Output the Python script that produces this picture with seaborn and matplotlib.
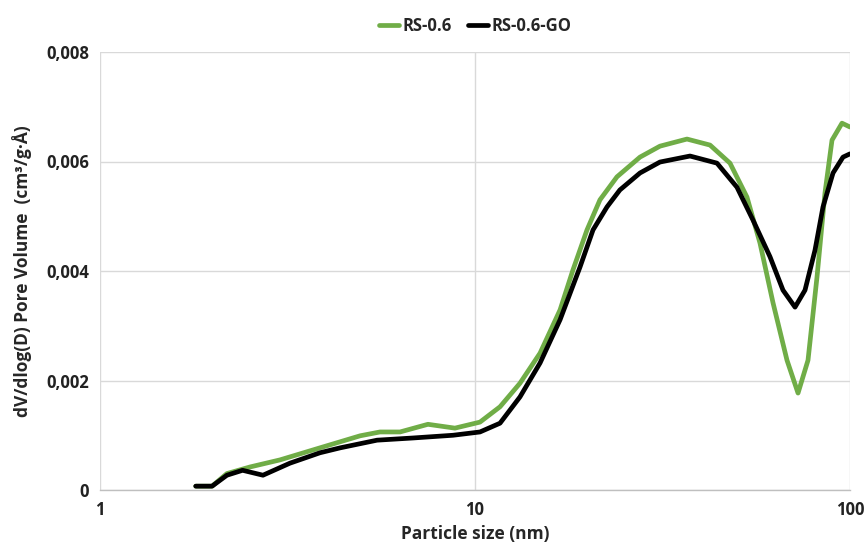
import numpy as np
import pandas as pd
import matplotlib
matplotlib.use("Agg")
import matplotlib.pyplot as plt
import seaborn as sns
from matplotlib.ticker import FixedLocator, FuncFormatter

# Data
size_rs = [1.80, 1.99, 2.18, 2.51, 3.02, 3.86, 4.94, 5.58, 6.31, 7.49, 8.84, 10.31,
           11.66, 13.18, 14.91, 16.86, 18.25, 19.89, 21.54, 23.91, 27.54, 31.13,
           36.75, 42.34, 47.86, 53.12, 57.54, 62.33, 67.92, 72.68, 77.27, 81.66,
           85.77, 89.54, 95.2, 100.0]
vol_rs = [0.00007, 0.00007, 0.00030, 0.00042, 0.00055, 0.00077, 0.00099, 0.00106,
          0.00106, 0.00120, 0.00113, 0.00124, 0.00152, 0.00195, 0.00250, 0.00329,
          0.00402, 0.00475, 0.00530, 0.00572, 0.00608, 0.00628, 0.00641, 0.00630,
          0.00597, 0.00535, 0.00451, 0.00342, 0.00237, 0.00177, 0.00237, 0.00389,
          0.00543, 0.00639, 0.00670, 0.00663]

size_go = [1.80, 1.99, 2.18, 2.40, 2.72, 3.21, 3.86, 4.37, 5.48, 6.83, 8.74, 10.31,
           11.66, 13.18, 14.91, 16.86, 19.05, 20.64, 22.49, 24.34, 27.54, 31.13,
           37.44, 44.19, 49.96, 55.12, 61.19, 66.27, 71.35, 75.86, 80.66, 84.72,
           90.10, 95.8, 100.0]
vol_go = [0.00007, 0.00007, 0.00027, 0.00036, 0.00027, 0.00049, 0.00068, 0.00077,
          0.00091, 0.00095, 0.00100, 0.00106, 0.00122, 0.00170, 0.00232, 0.00311,
          0.00407, 0.00475, 0.00517, 0.00548, 0.00579, 0.00599, 0.00610, 0.00597,
          0.00553, 0.00493, 0.00426, 0.00365, 0.00334, 0.00365, 0.00438, 0.00517,
          0.00579, 0.00608, 0.00614]

series_names = ["RS-0.6", "RS-0.6-GO"]
colors = {"RS-0.6": "#70AD47", "RS-0.6-GO": "#000000"}
y_ticks = [0, 0.002, 0.004, 0.006, 0.008]
x_ticks = [1, 10, 100]

df = pd.concat([
    pd.DataFrame({"size": size_rs, "vol": vol_rs, "series": series_names[0]}),
    pd.DataFrame({"size": size_go, "vol": vol_go, "series": series_names[1]}),
], ignore_index=True)

sns.set_theme(style="whitegrid")
plt.rcParams["font.family"] = ["Open Sans", "DejaVu Sans"]

fig = plt.figure(figsize=(8.66, 5.58), dpi=100)
ax = fig.add_axes([100/866, 1-490/558, 750/866, 438/558])

sns.lineplot(data=df, x="size", y="vol", hue="series", palette=colors,
             hue_order=series_names, linewidth=3.4, sort=False, estimator=None,
             solid_joinstyle="round", solid_capstyle="round", ax=ax)

ax.set_xscale("log")
ax.set_xlim(1, 100)
ax.set_ylim(0, 0.008)
ax.xaxis.set_major_locator(FixedLocator(x_ticks))
ax.xaxis.set_minor_locator(FixedLocator([]))
ax.xaxis.set_major_formatter(FuncFormatter(lambda v, p: f"{v:g}"))
ax.yaxis.set_major_locator(FixedLocator(y_ticks))
ax.yaxis.set_major_formatter(FuncFormatter(lambda v, p: "0" if v == 0 else f"{v:.3f}".replace(".", ",")))

ax.grid(True, color="#d9d9d9", linewidth=1)
for s in ["top", "right", "left"]:
    ax.spines[s].set_visible(False)
ax.spines["bottom"].set_color("#bfbfbf")
ax.spines["bottom"].set_linewidth(1)
ax.tick_params(axis="both", length=0, labelsize=12, pad=8)
for lbl in ax.get_xticklabels() + ax.get_yticklabels():
    lbl.set_fontweight("bold")
    lbl.set_color("#222222")

ax.set_xlabel("Particle size (nm)", fontsize=12.5, fontweight="bold", labelpad=4)
ax.set_ylabel("dV/dlog(D) Pore Volume  (cm³/g·Å)", fontsize=12.5, fontweight="bold", labelpad=10)

leg = ax.legend(loc="upper center", bbox_to_anchor=(0.5, 1.115), ncol=2, frameon=False,
                handlelength=1.2, handletextpad=0.2, columnspacing=1.0,
                prop={"weight": "bold", "size": 12})

fig.savefig("out.png", dpi=100)
